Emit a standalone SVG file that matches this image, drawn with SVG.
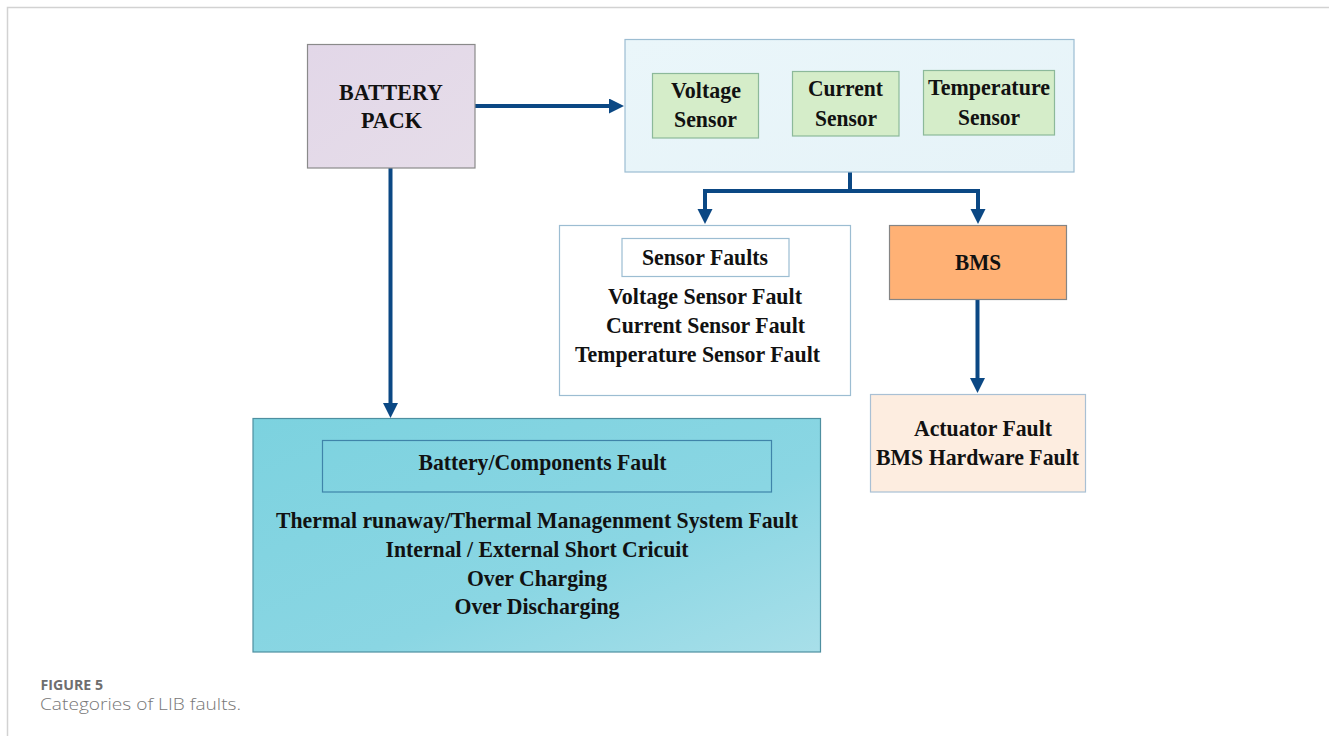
<svg xmlns="http://www.w3.org/2000/svg" width="1329" height="736" viewBox="0 0 1329 736">
  <style>
    .lbl { font-family: "Liberation Serif", "Times New Roman", serif; font-weight: bold; font-size: 24px; fill: #111111; text-anchor: middle; }
    .box { stroke-width: 1.2; }
    .conn { fill: none; stroke: #0b4884; stroke-width: 4; }
    .cap1 { font-family: "Open Sans", "Liberation Sans", sans-serif; font-weight: bold; font-size: 14px; fill: #6e6e6e; }
    .cap2 { font-family: "Open Sans", "Liberation Sans", sans-serif; font-weight: 300; font-size: 17px; fill: #777777; }
  </style>
  <defs>
    <marker id="head" markerUnits="userSpaceOnUse" markerWidth="16" markerHeight="16" refX="5" refY="7.5" orient="auto">
      <path d="M0,0 L15,7.5 L0,15 z" fill="#0b4884"/>
    </marker>
    <linearGradient id="gPack" x1="0" y1="0" x2="1" y2="1">
      <stop offset="0" stop-color="#e2d7e8"/>
      <stop offset="1" stop-color="#e6dde9"/>
    </linearGradient>
    <linearGradient id="gSensors" x1="0" y1="0" x2="1" y2="1">
      <stop offset="0" stop-color="#eaf6fa"/>
      <stop offset="1" stop-color="#e6f3f8"/>
    </linearGradient>
    <linearGradient id="gBattery" x1="0" y1="0" x2="1" y2="1">
      <stop offset="0" stop-color="#7cd2df"/>
      <stop offset="0.6" stop-color="#8ad6e3"/>
      <stop offset="1" stop-color="#a8dfe9"/>
    </linearGradient>
  </defs>

  <rect width="1329" height="736" fill="#ffffff"/>
  <!-- page frame -->
  <path d="M7.5,736 V7.5 H1329" fill="none" stroke="#d2d2d2" stroke-width="1.5"/>

  <!-- connectors -->
  <g id="connectors">
    <path class="conn" d="M475,106 H614" marker-end="url(#head)"/>
    <path class="conn" d="M390.5,168 V408" marker-end="url(#head)"/>
    <path class="conn" d="M850,172 V191 M705,191 H978"/>
    <path class="conn" d="M705,189 V214" marker-end="url(#head)"/>
    <path class="conn" d="M978,189 V214" marker-end="url(#head)"/>
    <path class="conn" d="M977.5,299 V383" marker-end="url(#head)"/>
  </g>

  <g id="battery-pack">
    <rect class="box" x="307.5" y="44.5" width="167.5" height="123.5" fill="url(#gPack)" stroke="#8a8a8a"/>
    <text class="lbl" x="391" y="99.5" textLength="104" lengthAdjust="spacingAndGlyphs">BATTERY</text>
    <text class="lbl" x="391.5" y="128" textLength="61" lengthAdjust="spacingAndGlyphs">PACK</text>
  </g>

  <g id="sensors">
    <rect class="box" x="625" y="39.5" width="449" height="132.5" fill="url(#gSensors)" stroke="#9cbdd2"/>
    <g id="voltage-sensor">
      <rect class="box" x="652.5" y="73.5" width="106" height="64.5" fill="#d5edc9" stroke="#8cb99a"/>
      <text class="lbl" x="706" y="98" textLength="70" lengthAdjust="spacingAndGlyphs">Voltage</text>
      <text class="lbl" x="705.5" y="127" textLength="63" lengthAdjust="spacingAndGlyphs">Sensor</text>
    </g>
    <g id="current-sensor">
      <rect class="box" x="792.5" y="71.5" width="106.5" height="64.5" fill="#d5edc9" stroke="#8cb99a"/>
      <text class="lbl" x="845.5" y="96" textLength="75" lengthAdjust="spacingAndGlyphs">Current</text>
      <text class="lbl" x="846" y="126" textLength="62" lengthAdjust="spacingAndGlyphs">Sensor</text>
    </g>
    <g id="temperature-sensor">
      <rect class="box" x="923.5" y="70.5" width="131" height="64.5" fill="#d5edc9" stroke="#8cb99a"/>
      <text class="lbl" x="989" y="95" textLength="122" lengthAdjust="spacingAndGlyphs">Temperature</text>
      <text class="lbl" x="989" y="125" textLength="62" lengthAdjust="spacingAndGlyphs">Sensor</text>
    </g>
  </g>

  <g id="sensor-faults">
    <rect class="box" x="559.5" y="225.5" width="291" height="170" fill="#ffffff" stroke="#9cbdd2"/>
    <rect class="box" x="622" y="238.5" width="167" height="38" fill="#ffffff" stroke="#9cbdd2"/>
    <text class="lbl" x="705" y="265" textLength="126" lengthAdjust="spacingAndGlyphs">Sensor Faults</text>
    <text class="lbl" x="705" y="303.5" textLength="194" lengthAdjust="spacingAndGlyphs">Voltage Sensor Fault</text>
    <text class="lbl" x="705.5" y="332.5" textLength="199" lengthAdjust="spacingAndGlyphs">Current Sensor Fault</text>
    <text class="lbl" x="697.5" y="361.5" textLength="245" lengthAdjust="spacingAndGlyphs">Temperature Sensor Fault</text>
  </g>

  <g id="bms">
    <rect class="box" x="889.5" y="225.5" width="177" height="74" fill="#ffb175" stroke="#858585"/>
    <text class="lbl" x="978" y="270" textLength="46" lengthAdjust="spacingAndGlyphs">BMS</text>
  </g>

  <g id="bms-faults">
    <rect class="box" x="870.5" y="394.5" width="215" height="97.5" fill="#fdede0" stroke="#a9c0d4"/>
    <text class="lbl" x="983" y="435.5" textLength="138" lengthAdjust="spacingAndGlyphs">Actuator Fault</text>
    <text class="lbl" x="977.5" y="465" textLength="203" lengthAdjust="spacingAndGlyphs">BMS Hardware Fault</text>
  </g>

  <g id="battery-faults">
    <rect class="box" x="253" y="418.5" width="567.5" height="233.5" fill="url(#gBattery)" stroke="#4e8fa0"/>
    <rect class="box" x="322.5" y="440.5" width="449" height="51.5" fill="none" stroke="#3f84a9"/>
    <text class="lbl" x="542.5" y="469.5" textLength="248" lengthAdjust="spacingAndGlyphs">Battery/Components Fault</text>
    <text class="lbl" x="537" y="527.5" textLength="522" lengthAdjust="spacingAndGlyphs">Thermal runaway/Thermal Managenment System Fault</text>
    <text class="lbl" x="537" y="556.5" textLength="303" lengthAdjust="spacingAndGlyphs">Internal / External Short Cricuit</text>
    <text class="lbl" x="537" y="585.5" textLength="140" lengthAdjust="spacingAndGlyphs">Over Charging</text>
    <text class="lbl" x="537" y="614" textLength="165" lengthAdjust="spacingAndGlyphs">Over Discharging</text>
  </g>

  <!-- caption -->
  <text class="cap1" x="40.5" y="690" textLength="62.5" lengthAdjust="spacingAndGlyphs">FIGURE 5</text>
  <text class="cap2" x="40" y="710" textLength="201" lengthAdjust="spacingAndGlyphs">Categories of LIB faults.</text>
</svg>
